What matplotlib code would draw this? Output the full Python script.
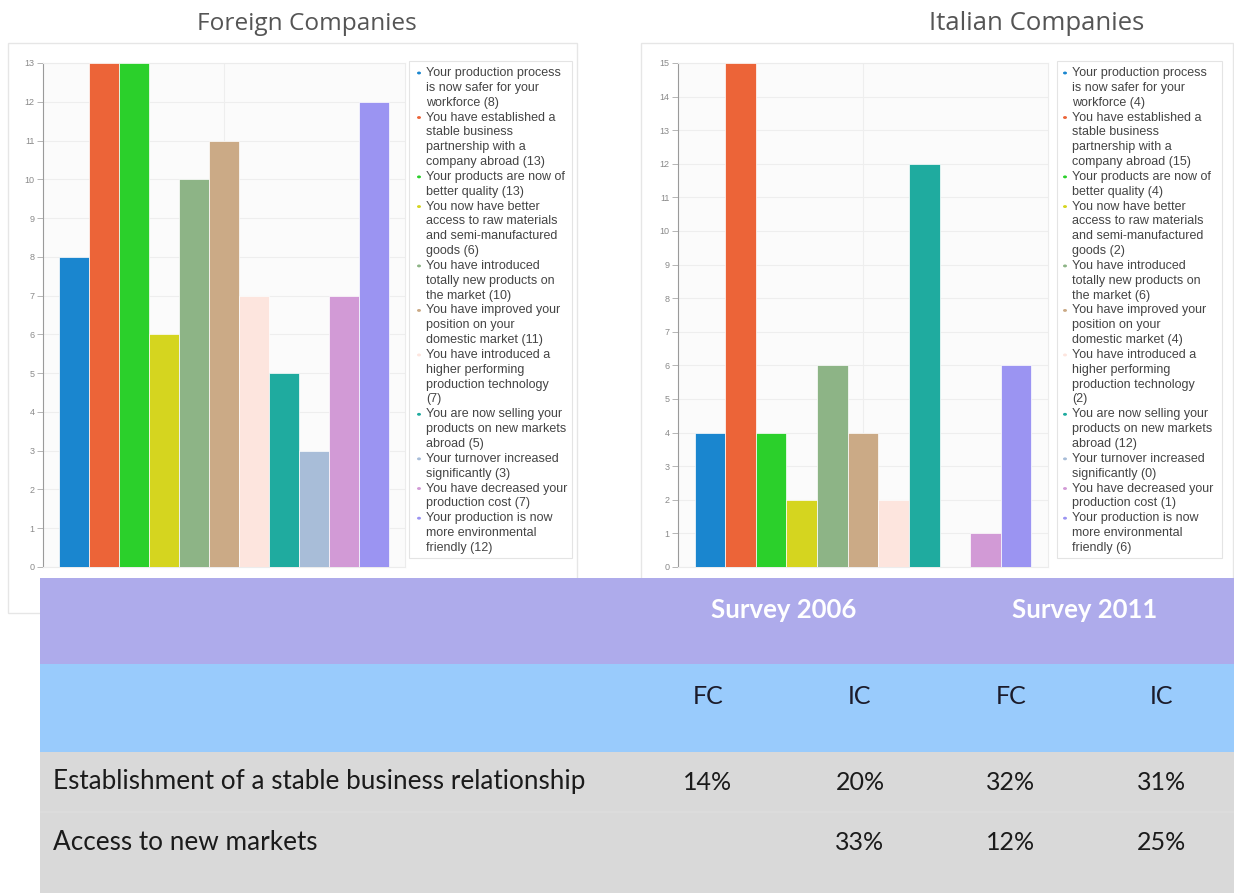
import matplotlib
matplotlib.use('Agg')
import matplotlib.pyplot as plt
from matplotlib.patches import Rectangle, Circle
import textwrap

# ---------------- data ----------------
categories = [
    "Your production process is now safer for your workforce",
    "You have established a stable business partnership with a company abroad",
    "Your products are now of better quality",
    "You now have better access to raw materials and semi-manufactured goods",
    "You have introduced totally new products on the market",
    "You have improved your position on your domestic market",
    "You have introduced a higher performing production technology",
    "You are now selling your products on new markets abroad",
    "Your turnover increased significantly",
    "You have decreased your production cost",
    "Your production is now more environmental friendly",
]
fc_values = [8, 13, 13, 6, 10, 11, 7, 5, 3, 7, 12]
ic_values = [4, 15, 4, 2, 6, 4, 2, 12, 0, 1, 6]
bar_colors = ['#1a86cf', '#ec6438', '#2bd02b', '#d5d51f', '#8db486', '#cbaa86',
              '#fde5de', '#1fab9f', '#a8bdd8', '#d29ad6', '#9b94f2']
chart_titles = ['Foreign Companies', 'Italian Companies']

survey_labels = ['Survey 2006', 'Survey 2011']
table_cols = ['FC', 'IC', 'FC', 'IC']
row_labels = ['Establishment of a stable business relationship', 'Access to new markets']
row_values = [['14%', '20%', '32%', '31%'],
              ['', '33%', '12%', '25%']]

# ---------------- figure ----------------
W, H = 1234, 893
fig = plt.figure(figsize=(W / 100, H / 100), dpi=100)
fig.patch.set_facecolor('white')
renderer = fig.canvas.get_renderer()


def fx(x):
    return x / W


def fy(y):
    return 1 - y / H


def rect(x0, y0, x1, y1, **kw):
    r = Rectangle((fx(x0), fy(y1)), (x1 - x0) / W, (y1 - y0) / H,
                  transform=fig.transFigure, **kw)
    fig.add_artist(r)
    return r


def fit_size(s, target_w, **kw):
    t = fig.text(0, 0, s, fontsize=20, **kw)
    bb = t.get_window_extent(renderer=renderer)
    t.remove()
    return 20 * target_w / bb.width


def chart(values, vmax, ax_box, panel_box, legend_box, dot_x, title, title_xy, title_w):
    # panel
    px0, py0, px1, py1 = panel_box
    rect(px0, py0, px1, py1, facecolor='white', edgecolor='#e6e6e6', lw=1, zorder=-2)
    # title
    ts = fit_size(title, title_w, family='Open Sans')
    fig.text(fx(title_xy[0]), fy(title_xy[1]), title, fontsize=ts, family='Open Sans',
             color='#555555', ha='center', va='center')
    x0, y0, x1, y1 = ax_box
    ax = fig.add_axes([fx(x0), fy(y1), (x1 - x0) / W, (y1 - y0) / H])
    ax.set_facecolor('#fbfbfb')
    n = len(values)
    group = 0.91
    w = group / n
    xs = [-group / 2 + (i + 0.5) * w for i in range(n)]
    ax.bar(xs, values, width=w, color=bar_colors, edgecolor='white', linewidth=0.5, zorder=3)
    ax.set_xlim(-0.5, 0.5)
    ax.set_ylim(0, vmax)
    ax.set_yticks(range(0, vmax + 1))
    ax.set_xticks([0])
    ax.set_xticklabels([])
    ax.tick_params(axis='x', length=0)
    ax.tick_params(axis='y', labelsize=6.5, labelcolor='#8a8a8a', color='#aaaaaa',
                   length=4, width=0.6, pad=2)
    for lab in ax.get_yticklabels():
        lab.set_family('Liberation Sans')
    ax.grid(True, color='#eeeeee', lw=0.8, zorder=0)
    for s in ['top', 'right', 'bottom']:
        ax.spines[s].set_color('#ececec')
        ax.spines[s].set_linewidth(0.8)
    ax.spines['left'].set_color('#9a9a9a')
    ax.spines['left'].set_linewidth(0.8)
    # legend
    lx0, ly0, lx1, ly1 = legend_box
    rect(lx0, ly0, lx1, ly1, facecolor='white', edgecolor='#e4e4e4', lw=0.8, zorder=1)
    fs = fit_size('Your production process', 134, family='Liberation Sans')
    line_h = 14.84
    yline = 73
    for i, (cat, v) in enumerate(zip(categories, values)):
        lines = textwrap.wrap(f"{cat} ({v})", 24, break_on_hyphens=False)
        dot = Circle((fx(dot_x), fy(yline)), 2.0 / W, transform=fig.transFigure,
                     facecolor=bar_colors[i], edgecolor='none', zorder=3)
        fig.add_artist(dot)
        for ln in lines:
            fig.text(fx(dot_x + 7), fy(yline), ln, fontsize=fs, family='Liberation Sans',
                     color='#444444', ha='left', va='center', zorder=3)
            yline += line_h
    return ax


chart(fc_values, 13, (43, 63, 405, 567), (8, 43, 577, 613), (409, 61, 572, 558), 419,
      chart_titles[0], (307, 24), 218)
chart(ic_values, 15, (678, 63, 1048, 567), (641, 43, 1233, 613), (1057, 61, 1222, 558), 1065,
      chart_titles[1], (1037, 24), 215)

# ---------------- table ----------------
rect(40, 578, W, 664, facecolor='#aeabeb', edgecolor='none', zorder=5)
rect(40, 664, W, 752, facecolor='#99cbfc', edgecolor='none', zorder=5)
rect(40, 752, W, H, facecolor='#d9d9d9', edgecolor='none', zorder=5)
rect(40, 811, W, 813, facecolor='#dcdcdc', edgecolor='none', zorder=5)

survey_x = [784, 1085]
col_x = [708, 860, 1011, 1162]
row_y = [782, 842]

sfs = fit_size('Survey 2006', 145, family='Lato', weight='bold')
for sx, s in zip(survey_x, survey_labels):
    fig.text(fx(sx), fy(610), s, fontsize=sfs, family='Lato', weight='bold',
             color='white', ha='center', va='center', zorder=6)

cfs = fit_size('14%', 49, family='Lato')
for cx, c in zip(col_x, table_cols):
    fig.text(fx(cx), fy(697), c, fontsize=cfs, family='Lato', color='#1b1b2a',
             ha='center', va='center', zorder=6)

rfs = fit_size(row_labels[0], 534, family='Lato')
for ry, lab, vals in zip(row_y, row_labels, row_values):
    fig.text(fx(53), fy(ry), lab, fontsize=rfs, family='Lato', color='#1b1b1b',
             ha='left', va='center', zorder=6)
    for cx, v in zip(col_x, vals):
        if v:
            fig.text(fx(cx), fy(ry), v, fontsize=cfs, family='Lato', color='#1b1b1b',
                     ha='center', va='center', zorder=6)

fig.savefig('out.png', dpi=100)
